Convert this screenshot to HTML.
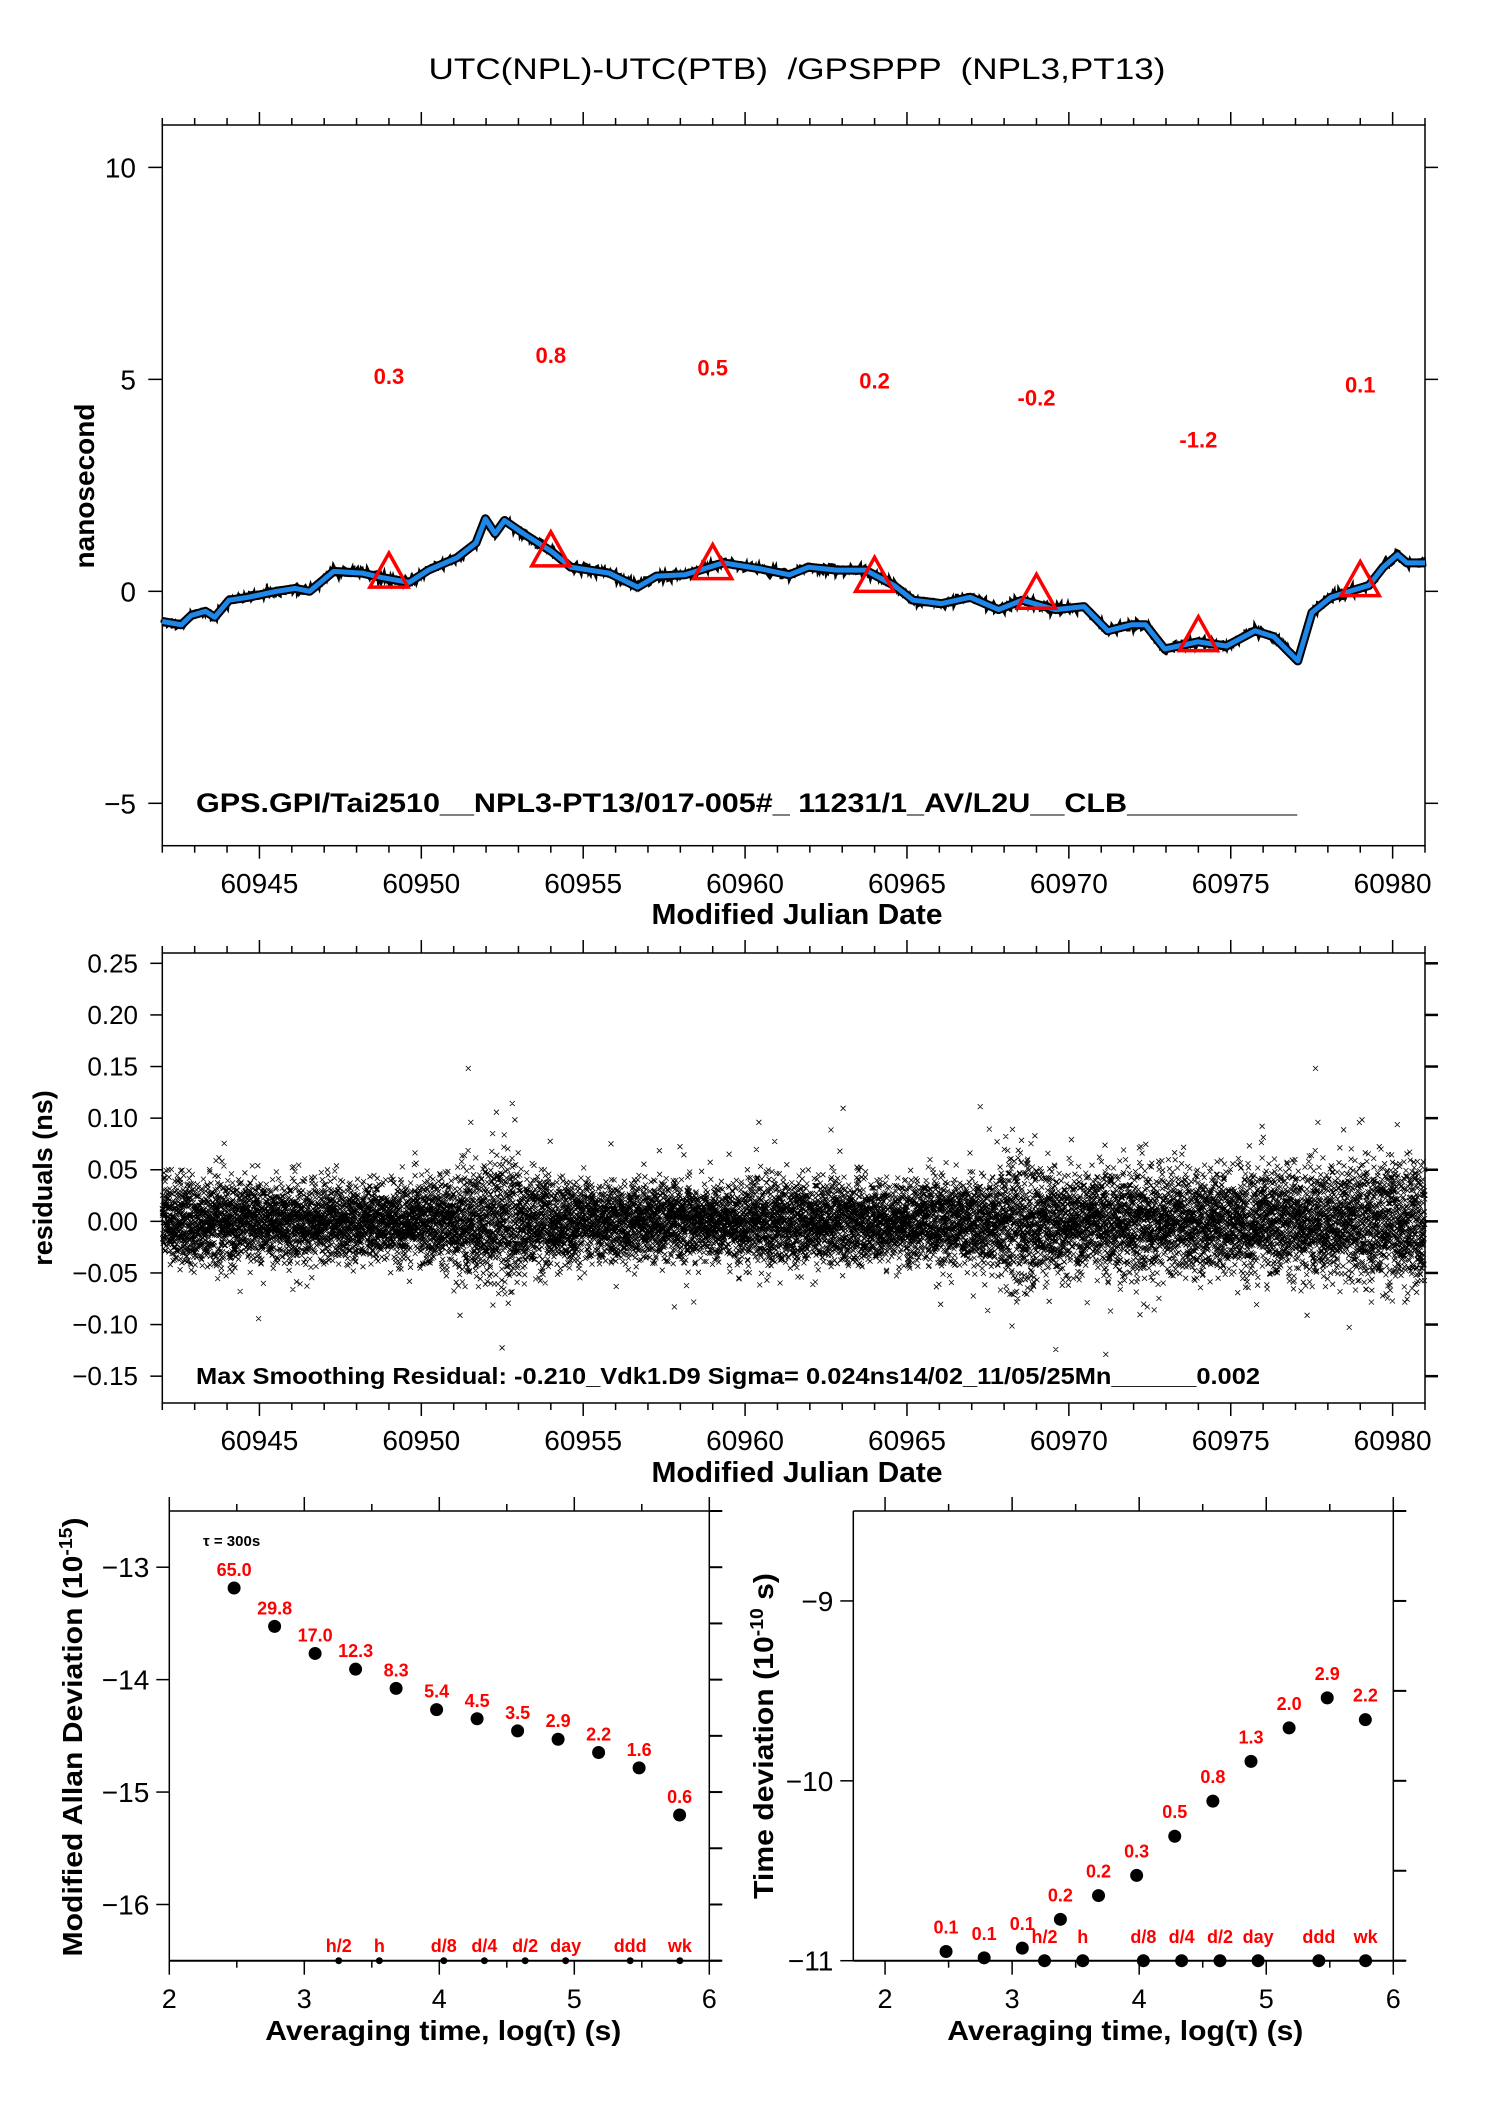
<!DOCTYPE html>
<html><head><meta charset="utf-8"><style>
html,body{margin:0;padding:0;background:#fff;}
svg{display:block;font-family:"Liberation Sans",Arial,sans-serif;}
</style></head><body>
<svg id="chart" width="1488" height="2105" viewBox="0 0 1488 2105" xmlns="http://www.w3.org/2000/svg">
<rect width="1488" height="2105" fill="#fff"/>
<text x="797" y="79" font-size="30" text-anchor="middle" textLength="737" lengthAdjust="spacingAndGlyphs" xml:space="preserve">UTC(NPL)-UTC(PTB)  /GPSPPP  (NPL3,PT13)</text>
<g id="top"></g>
<g id="res"></g>
<g id="adev"></g>
<g id="tdev"></g>
</svg>
<script>
// ---------- data ----------
const offsetMjd = [60942.0,60942.59,60942.89,60943.33,60943.62,60944.06,60944.65,60945.53,60946.11,60946.55,60947.29,60948.17,60948.75,60949.63,60950.22,60951.10,60951.69,60951.98,60952.28,60952.57,60953.16,60954.04,60954.62,60955.80,60956.68,60957.26,60958.14,60959.32,60960.49,60961.37,60961.96,60962.84,60963.72,60964.60,60965.19,60966.07,60966.95,60967.83,60968.56,60969.58,60970.47,60971.20,60971.93,60972.37,60972.96,60973.99,60974.87,60975.75,60976.33,60977.07,60977.51,60978.09,60978.68,60979.27,60979.71,60980.15,60980.44,60981.0];
const offsetNs = [-0.71,-0.79,-0.57,-0.47,-0.61,-0.21,-0.14,0,0.07,0,0.47,0.43,0.33,0.21,0.5,0.79,1.14,1.71,1.36,1.67,1.36,0.93,0.57,0.43,0.1,0.36,0.39,0.67,0.53,0.39,0.57,0.5,0.5,0.14,-0.21,-0.29,-0.14,-0.43,-0.21,-0.43,-0.36,-0.93,-0.79,-0.79,-1.36,-1.19,-1.29,-0.93,-1.07,-1.64,-0.5,-0.14,0,0.14,0.57,0.86,0.67,0.67];
const markerMjd = [60949,60954,60959,60964,60969,60974,60979];
const markerVal = [0.3,0.8,0.5,0.2,-0.2,-1.2,0.1];
const mjdTicks = [60945,60950,60955,60960,60965,60970,60975,60980];
const nsTicks = [10,5,0,-5];
const resTicks = [0.25,0.20,0.15,0.10,0.05,0.00,-0.05,-0.10,-0.15];
const resDays = [60942,60943,60944,60945,60946,60947,60948,60949,60950,60951,60952,60953,60954,60955,60956,60957,60958,60959,60960,60961,60962,60963,60964,60965,60966,60967,60968,60969,60970,60971,60972,60973,60974,60975,60976,60977,60978,60979,60980];
const resSigma = [0.020,0.021,0.019,0.018,0.019,0.018,0.018,0.018,0.021,0.026,0.031,0.024,0.019,0.019,0.019,0.018,0.018,0.018,0.021,0.020,0.019,0.019,0.019,0.020,0.020,0.022,0.031,0.026,0.022,0.026,0.026,0.024,0.024,0.025,0.026,0.026,0.026,0.031,0.029];
const logTau = [2.48,2.78,3.08,3.38,3.68,3.98,4.28,4.58,4.88,5.18,5.48,5.78];
const adevLog = [-13.185,-13.526,-13.767,-13.907,-14.078,-14.267,-14.348,-14.456,-14.530,-14.648,-14.785,-15.204];
const adevLabels = ["65.0","29.8","17.0","12.3","8.3","5.4","4.5","3.5","2.9","2.2","1.6","0.6"];
const tdevLog = [-10.949,-10.984,-10.930,-10.770,-10.638,-10.526,-10.308,-10.113,-9.892,-9.706,-9.539,-9.660];
const tdevLabels = ["0.1","0.1","0.1","0.2","0.2","0.3","0.5","0.8","1.3","2.0","2.9","2.2"];
const spanNames = ["h/2","h","d/8","d/4","d/2","day","ddd","wk"];
const spanLog = [3.255,3.556,4.033,4.334,4.636,4.936,5.414,5.782];
const adevTicks = [-13,-14,-15,-16];
const tdevTicks = [-9,-10,-11];
const tauTicks = [2,3,4,5,6];

const NS='http://www.w3.org/2000/svg';
function mk(parent,tag,attrs,text){const e=document.createElementNS(NS,tag);for(const k in attrs)e.setAttribute(k,attrs[k]);if(text!==undefined)e.textContent=text;parent.appendChild(e);return e;}
function lin(d0,d1,r0,r1){return v=>r0+(v-d0)*(r1-r0)/(d1-d0);}
let seed=12345;function rnd(){seed=(seed*1103515245+12345)%2147483648;return seed/2147483648;}

// ---------- top plot ----------
{
const g=document.getElementById('top');
const L=162.3,R=1425,T=125,B=845.7;
const X=lin(60942,60981,L,R), Y=lin(11,-6,T,B);
let e;
e=mk(g,'rect',{x:L,y:T,width:R-L,height:B-T,fill:'none',stroke:'#000','stroke-width':1.5});

for(let d=60942;d<=60981;d++){const len=(d%5===0)?13:7;const x=X(d);
 mk(g,'line',{x1:x,y1:T,x2:x,y2:T-len,stroke:'#000','stroke-width':1.5});
 mk(g,'line',{x1:x,y1:B,x2:x,y2:B+len,stroke:'#000','stroke-width':1.5});}
mjdTicks.forEach(t=>{e=mk(g,'text',{x:X(t),y:893,'font-size':28,'text-anchor':'middle'},String(t));
 });
nsTicks.forEach(t=>{const y=Y(t);mk(g,'line',{x1:L-14,y1:y,x2:L,y2:y,stroke:'#000','stroke-width':1.5});
 mk(g,'line',{x1:R,y1:y,x2:R+13,y2:y,stroke:'#000','stroke-width':1.5});
 e=mk(g,'text',{x:136,y:y+10,'font-size':28,'text-anchor':'end'},t<0?'\u2212'+Math.abs(t):String(t));
 });
e=mk(g,'text',{x:0,y:0,'font-size':28,'font-weight':'bold','text-anchor':'middle',transform:'translate(94,486) rotate(-90)'},'nanosecond');

e=mk(g,'text',{x:797,y:924,'font-size':29,'font-weight':'bold','text-anchor':'middle',textLength:291,lengthAdjust:'spacingAndGlyphs'},'Modified Julian Date');

e=mk(g,'text',{x:196,y:812,'font-size':27,'font-weight':'bold',textLength:1101,lengthAdjust:'spacingAndGlyphs','xml:space':'preserve'},'GPS.GPI/Tai2510__NPL3-PT13/017-005#_  11231/1_AV/L2U__CLB__________');

let pts=offsetMjd.map((m,i)=>X(m).toFixed(1)+','+Y(offsetNs[i]).toFixed(1)).join(' ');
// jagged raw-data texture around the line
let jd='';
for(let i=0;i<offsetMjd.length-1;i++){const n=Math.max(2,Math.round((offsetMjd[i+1]-offsetMjd[i])*60));
 for(let k=0;k<n;k++){const f=k/n;const m=offsetMjd[i]+f*(offsetMjd[i+1]-offsetMjd[i]);const v=offsetNs[i]+f*(offsetNs[i+1]-offsetNs[i]);
  const x=X(m),y=Y(v)+(rnd()-0.5)*9;jd+=(jd?'L':'M')+x.toFixed(1)+' '+y.toFixed(1);}}
e=mk(g,'path',{d:jd,fill:'none',stroke:'#000','stroke-width':4});

mk(g,'polyline',{points:pts,fill:'none',stroke:'#000','stroke-width':9,'stroke-linejoin':'round'});
e=mk(g,'polyline',{points:pts,fill:'none',stroke:'#1f87e8','stroke-width':5,'stroke-linejoin':'round'});

markerMjd.forEach((m,i)=>{const x=X(m),yb=Y(markerVal[i]-0.2);
 e=mk(g,'polygon',{points:`${x-19},${yb} ${x+19},${yb} ${x},${yb-34}`,fill:'none',stroke:'#f00','stroke-width':3.5});
 
 e=mk(g,'text',{x:x,y:Y(markerVal[i]+4.8)+9,'font-size':22,'font-weight':'bold',fill:'#f00','text-anchor':'middle'},markerVal[i].toFixed(1));
 });
}

// ---------- residual plot ----------
{
const g=document.getElementById('res');
const L=162.3,R=1425,T=953,B=1403;
const X=lin(60942,60981,L,R), Y=lin(0.26,-0.176,T,B);
let e;
e=mk(g,'rect',{x:L,y:T,width:R-L,height:B-T,fill:'none',stroke:'#000','stroke-width':1.5});

for(let d=60942;d<=60981;d++){const len=(d%5===0)?13:7;const x=X(d);
 mk(g,'line',{x1:x,y1:T,x2:x,y2:T-len,stroke:'#000','stroke-width':1.5});
 mk(g,'line',{x1:x,y1:B,x2:x,y2:B+len,stroke:'#000','stroke-width':1.5});}
mjdTicks.forEach(t=>{e=mk(g,'text',{x:X(t),y:1450,'font-size':28,'text-anchor':'middle'},String(t));
 });
resTicks.forEach(t=>{const y=Y(t);mk(g,'line',{x1:L-12,y1:y,x2:L,y2:y,stroke:'#000','stroke-width':1.5});
 mk(g,'line',{x1:R,y1:y,x2:R+13,y2:y,stroke:'#000','stroke-width':2.5});
 e=mk(g,'text',{x:138,y:y+9,'font-size':26,'text-anchor':'end'},(t<0?'\u2212':'')+Math.abs(t).toFixed(2));
 });
e=mk(g,'text',{x:0,y:0,'font-size':27,'font-weight':'bold','text-anchor':'middle',transform:'translate(52,1178) rotate(-90)'},'residuals (ns)');

e=mk(g,'text',{x:797,y:1482,'font-size':29,'font-weight':'bold','text-anchor':'middle',textLength:291,lengthAdjust:'spacingAndGlyphs'},'Modified Julian Date');

let d='';
for(let i=0;i<resDays.length;i++){const s=resSigma[i];
 for(let k=0;k<400;k++){const m=resDays[i]+k/400;if(m>60981)break;
  let n=(rnd()+rnd()+rnd()+rnd()-2)*1.73;
  if(rnd()<0.03)n*=2.0;
  const x=X(m),y=Y(n*s);
  d+=`M${(x-2.5).toFixed(1)} ${(y-2.5).toFixed(1)}l5 5M${(x-2.5).toFixed(1)} ${(y+2.5).toFixed(1)}l5 -5`;}}
e=mk(g,'path',{d:d,stroke:'#000','stroke-width':0.8,fill:'none'});

e=mk(g,'text',{x:196,y:1384,'font-size':23,'font-weight':'bold',textLength:1064,lengthAdjust:'spacingAndGlyphs','xml:space':'preserve'},'Max Smoothing Residual: -0.210_Vdk1.D9  Sigma= 0.024ns14/02_11/05/25Mn______0.002');

}

// ---------- stability plots ----------
function stab(id,L,R,x0,yTop,yBot,vals,labels,labelOff,yTicks,minorStep,spanR,titleX,titleY,titleLen,spanLabelY){
 const g=document.getElementById(id);
 const T=1511,B=1960.7;
 const X=lin(x0,6,L,R),Y=lin(yTop,yBot,T,B);
 let e;
 mk(g,'line',{x1:L,y1:T,x2:R,y2:T,stroke:'#000','stroke-width':1.5});
 mk(g,'line',{x1:L,y1:T,x2:L,y2:B,stroke:'#000','stroke-width':1.5});
 mk(g,'line',{x1:R,y1:T,x2:R,y2:B,stroke:'#000','stroke-width':1.5});
 mk(g,'line',{x1:L,y1:B,x2:R+12,y2:B,stroke:'#000','stroke-width':2});
 for(let t=2;t<=6.001;t+=0.5){const x=X(t),maj=Math.abs(t-Math.round(t))<0.01;
  mk(g,'line',{x1:x,y1:T,x2:x,y2:T-(maj?14:7),stroke:'#000','stroke-width':1.5});
  mk(g,'line',{x1:x,y1:B,x2:x,y2:B+(maj?14:7),stroke:'#000','stroke-width':1.5});}
 tauTicks.forEach(t=>{e=mk(g,'text',{x:X(t),y:2008,'font-size':27,'text-anchor':'middle'},String(t));
  });
 for(let v=yBot;v<=yTop+0.001;v+=minorStep){mk(g,'line',{x1:R,y1:Y(v),x2:R+13,y2:Y(v),stroke:'#000','stroke-width':2});}
 yTicks.forEach(t=>{const y=Y(t);mk(g,'line',{x1:L-13,y1:y,x2:L,y2:y,stroke:'#000','stroke-width':1.5});
  e=mk(g,'text',{x:L-20,y:y+10,'font-size':28,'text-anchor':'end'},'\u2212'+Math.abs(t));
  });
 logTau.forEach((t,i)=>{const x=X(t),y=Y(vals[i]);
  e=mk(g,'circle',{cx:x,cy:y,r:6.5,fill:'#000'});
  
  e=mk(g,'text',{x:x,y:y-labelOff,'font-size':18,'font-weight':'bold',fill:'#f00','text-anchor':'middle'},labels[i]);
  });
 spanLog.forEach((t,i)=>{const x=X(t);
  e=mk(g,'circle',{cx:x,cy:B,r:spanR,fill:'#000'});
  
  e=mk(g,'text',{x:x,y:spanLabelY,'font-size':18,'font-weight':'bold',fill:'#f00','text-anchor':'middle'},spanNames[i]);
  });
 e=mk(g,'text',{x:(L+R)/2+(id==='adev'?4:2),y:2040,'font-size':28,'font-weight':'bold','text-anchor':'middle',textLength:356,lengthAdjust:'spacingAndGlyphs'},'Averaging time, log(\u03C4) (s)');
 
 e=mk(g,'text',{x:0,y:0,'font-size':28,'font-weight':'bold','text-anchor':'middle',textLength:titleLen,lengthAdjust:'spacingAndGlyphs',transform:`translate(${titleX},${titleY}) rotate(-90)`});
 
 return {g,e};
}
{
 const r=stab('adev',169.3,709.3,2,-12.5,-16.5,adevLog,adevLabels,12,adevTicks,0.5,3.5,82,1737,439,1952);
 r.e.innerHTML='Modified Allan Deviation (10<tspan font-size="18" dy="-10">-15</tspan><tspan dy="10">)</tspan>';
 const t=mk(r.g,'text',{x:203,y:1546,'font-size':15,'font-weight':'bold'},'\u03C4 = 300s');
 
}
{
 const r=stab('tdev',853.3,1393.3,1.75,-8.5,-11,tdevLog,tdevLabels,18,tdevTicks,0.5,6.5,773,1736,326,1943);
 r.e.innerHTML='Time deviation (10<tspan font-size="18" dy="-10">-10</tspan><tspan dy="10"> s)</tspan>';
}
</script>
</body></html>
